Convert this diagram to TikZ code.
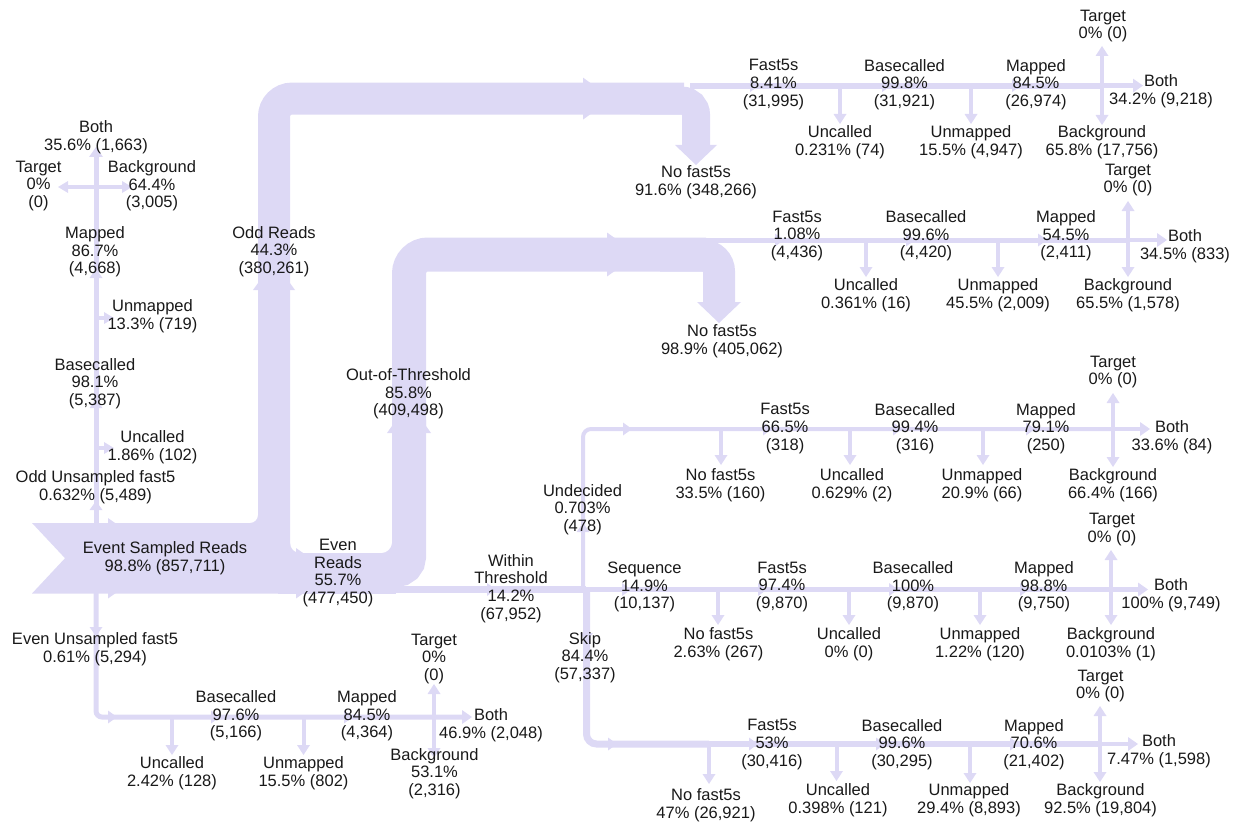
\documentclass[tikz,border=0pt]{standalone}
\usepackage{fontspec}
\setmainfont{Liberation Sans}
\definecolor{flow}{RGB}{221,217,245}
\newcommand\arrR[4]{\fill[flow] (#1,#2-#3) -- (#1+#4,#2) -- (#1,#2+#3) -- cycle;}
\newcommand\arrL[4]{\fill[flow] (#1,#2-#3) -- (#1-#4,#2) -- (#1,#2+#3) -- cycle;}
\newcommand\arrU[4]{\fill[flow] (#1-#3,#2) -- (#1,#2-#4) -- (#1+#3,#2) -- cycle;}
\newcommand\arrD[4]{\fill[flow] (#1-#3,#2) -- (#1,#2+#4) -- (#1+#3,#2) -- cycle;}
\newcommand\mkR[2]{\arrR{#1}{#2}{6.5}{9}}
\newcommand\mkU[2]{\arrU{#1}{#2}{6.5}{9}}
\newcommand\mkD[2]{\arrD{#1}{#2}{6.5}{9}}
\newcommand\stubD[3]{\draw[fl=4] (#1,#2) -- (#1,#3-9); \arrD{#1}{#3-10}{6.5}{10}}
\newcommand\tjunc[5]{%
  \draw[fl=4] (#1,#2) -- (#1,#3+9); \arrU{#1}{#3+10}{6.5}{10}
  \draw[fl=4] (#1,#2) -- (#1,#4-9); \arrD{#1}{#4-10}{6.5}{10}
  \draw[fl=4.5] (#1,#2) -- (#5-9,#2); \arrR{#5-10}{#2}{7}{10}}
\tikzset{
  fl/.style={draw=flow, line width=#1},
  lbl/.style={align=center, inner sep=0pt, text=black!90, font=\fontsize{16.5}{17.7}\selectfont}
}
\begin{document}
\begin{tikzpicture}[x=1pt,y=-1pt]
\useasboundingbox (0,0) rectangle (1246,821);

% ---------- big bands ----------
\fill[flow] (32,523) -- (280,523) -- (280,593.5) -- (32,593.5) -- (65,558.2) -- cycle;
\fill[flow] (278,553) rectangle (396,593.5);
% odd reads band
\draw[fl=32, rounded corners=18] (274,580) -- (274,98.6) -- (684,98.6);
\draw[fl=28, rounded corners=14] (640,100.6) -- (696,100.6) -- (696,146);
\fill[flow] (675,145) -- (717,145) -- (696,165) -- cycle;
% out-of-threshold band
\draw[fl=34, rounded corners=13] (380,570) -- (409,570) -- (409,420);
\fill[flow] (392,545) rectangle (418,575);
\draw[fl=34, rounded corners=19] (409,430) -- (409,254.5) -- (706,254.5);
\draw[fl=32, rounded corners=16] (660,255.5) -- (719,255.5) -- (719,303);
\fill[flow] (697,302) -- (741,302) -- (719,323) -- cycle;
% fillets
\fill[flow] (258,515) .. controls (258,519.4) and (254.4,523) .. (250,523) -- (258,523) -- cycle;
\fill[flow] (290,543) .. controls (290,548.5) and (294.5,553) .. (300,553) -- (290,553) -- cycle;
\fill[flow] (392,543) .. controls (392,548.5) and (386.5,553) .. (382,553) -- (392,553) -- cycle;
% band marks
\fill[flow] (108,518) -- (165,558.2) -- (108,598.5) -- cycle;
\fill[flow] (296,548) -- (332,573.2) -- (296,598.5) -- cycle;
\fill[flow] (253,290) -- (274,261) -- (295,290) -- cycle;
\fill[flow] (583,77.6) -- (612,98.6) -- (583,119.6) -- cycle;
\fill[flow] (387,433) -- (409,402) -- (431,433) -- cycle;
\fill[flow] (607,232.5) -- (638,254.5) -- (607,276.5) -- cycle;

% ---------- odd unsampled (left column) ----------
\draw[fl=5] (96,524) -- (96,156);
\arrU{96}{157}{7}{10}
\draw[fl=4] (96,187) -- (68,187); \arrL{68}{187}{6}{10}
\draw[fl=4] (96,187) -- (123,187); \arrR{122}{187}{6}{10}
\draw[fl=4] (96,318) -- (105,318); \arrR{104}{318}{6}{10}
\draw[fl=4] (96,448) -- (105,448); \arrR{104}{448}{6}{10}
\mkU{96}{510} \mkU{96}{408} \mkU{96}{278}

% ---------- even unsampled (bottom row) ----------
\draw[fl=5, rounded corners=6] (96,593) -- (96,717) -- (463,717);
\arrR{462}{717}{7}{10}
\mkD{96}{627} \mkR{108}{717} \mkR{211}{717} \mkR{344}{717}
\stubD{172}{717}{755} \stubD{303.5}{717}{755}
\draw[fl=4] (434,717) -- (434,693); \arrU{434}{694}{6.5}{10}
\stubD{434}{717}{758}

% ---------- row 1 ----------
\draw[fl=6] (690,85.6) -- (1102,85.6);
\mkR{750}{85.6} \mkR{882}{85.6} \mkR{1012}{85.6}
\stubD{840}{86}{124} \stubD{971}{86}{124}
\tjunc{1102}{85.6}{46}{125}{1143}

% ---------- row 2 ----------
\draw[fl=5] (700,240) -- (1128,240);
\mkR{775}{240} \mkR{906}{240} \mkR{1038}{240}
\stubD{866}{240}{277} \stubD{998}{240}{277}
\tjunc{1128}{240}{201}{277}{1167}

% ---------- within threshold ----------
\draw[fl=7] (390,589.5) -- (586,589.5);
\mkR{487}{589.5}

% ---------- row 3 (undecided) ----------
\draw[fl=4, rounded corners=8] (583,590) -- (583,429) -- (1113,429);
\mkU{583}{532} \mkR{623}{429} \mkR{763}{429} \mkR{893}{429} \mkR{1026}{429}
\stubD{721}{429}{465} \stubD{850}{429}{465} \stubD{983}{429}{465}
\tjunc{1113}{429}{393}{467}{1150}

% ---------- row 4 (sequence) ----------
\draw[fl=5] (583,589.5) -- (1111,589.5);
\mkR{622}{589.5} \mkR{758}{589.5} \mkR{889}{589.5} \mkR{1020}{589.5}
\stubD{718}{589.5}{625} \stubD{849}{589.5}{625} \stubD{980}{589.5}{625}
\tjunc{1111}{589.5}{550}{625}{1148}

% ---------- row 5 (skip) ----------
\draw[fl=7, rounded corners=10] (586.5,589) -- (586.5,744) -- (709,744);
\draw[fl=5.5] (705,744) -- (1100,744);
\mkD{586.5}{633} \mkR{608}{744} \mkR{749}{744} \mkR{876}{744} \mkR{1010}{744}
\stubD{709}{744}{784} \stubD{836.5}{744}{781} \stubD{970}{744}{783}
\tjunc{1100}{744}{706}{782}{1138}

% ---------- labels ----------
\node[lbl] (a1) at (96,137.5) {Both\\35.6\% (1,663)};
\node[lbl] (a2) at (38.5,186) {Target\\0\%\\(0)};
\node[lbl] (a3) at (152,186) {Background\\64.4\%\\(3,005)};
\node[lbl] (a4) at (95,252) {Mapped\\86.7\%\\(4,668)};
\node[lbl] (a5) at (152.5,316.5) {Unmapped\\13.3\% (719)};
\node[lbl] (a6) at (95,383.5) {Basecalled\\98.1\%\\(5,387)};
\node[lbl] (a7) at (152.5,447) {Uncalled\\1.86\% (102)};
\node[lbl] (a8) at (95.5,487.5) {Odd Unsampled fast5\\0.632\% (5,489)};
\node[lbl] (a9) at (165,558) {Event Sampled Reads\\98.8\% (857,711)};

\node[lbl] (b1) at (95,649) {Even Unsampled fast5\\0.61\% (5,294)};
\node[lbl] (b2) at (236,716) {Basecalled\\97.6\%\\(5,166)};
\node[lbl] (b3) at (367,716) {Mapped\\84.5\%\\(4,364)};
\node[lbl] (b4) at (434,659) {Target\\0\%\\(0)};
\node[lbl] (b5) at (491,725) {Both\\46.9\% (2,048)};
\node[lbl] (b6) at (434.5,773.5) {Background\\53.1\%\\(2,316)};
\node[lbl] (b7) at (172,773) {Uncalled\\2.42\% (128)};
\node[lbl] (b8) at (303.5,773) {Unmapped\\15.5\% (802)};

\node[lbl] (c1) at (274,251.5) {Odd Reads\\44.3\%\\(380,261)};
\node[lbl] (c2) at (338,573) {Even\\Reads\\55.7\%\\(477,450)};
\node[lbl] (c3) at (408.5,394) {Out-of-Threshold\\85.8\%\\(409,498)};
\node[lbl] (c4) at (696,182.5) {No fast5s\\91.6\% (348,266)};
\node[lbl] (c5) at (722,341.5) {No fast5s\\98.9\% (405,062)};
\node[lbl] (c6) at (511,588.5) {Within\\Threshold\\14.2\%\\(67,952)};
\node[lbl] (c7) at (582.5,509.5) {Undecided\\0.703\%\\(478)};
\node[lbl] (c8) at (644.5,587) {Sequence\\14.9\%\\(10,137)};
\node[lbl] (c9) at (585,657.5) {Skip\\84.4\%\\(57,337)};

\node[lbl] (r11) at (773.5,84.5) {Fast5s\\8.41\%\\(31,995)};
\node[lbl] (r12) at (904.5,84.5) {Basecalled\\99.8\%\\(31,921)};
\node[lbl] (r13) at (1036,84.5) {Mapped\\84.5\%\\(26,974)};
\node[lbl] (r14) at (1103,26) {Target\\0\% (0)};
\node[lbl] (r15) at (1161,91.5) {Both\\34.2\% (9,218)};
\node[lbl] (r16) at (840,142) {Uncalled\\0.231\% (74)};
\node[lbl] (r17) at (971,142) {Unmapped\\15.5\% (4,947)};
\node[lbl] (r18) at (1102,142) {Background\\65.8\% (17,756)};

\node[lbl] (r21) at (797,236) {Fast5s\\1.08\%\\(4,436)};
\node[lbl] (r22) at (926,236) {Basecalled\\99.6\%\\(4,420)};
\node[lbl] (r23) at (1066,236) {Mapped\\54.5\%\\(2,411)};
\node[lbl] (r24) at (1128,180) {Target\\0\% (0)};
\node[lbl] (r25) at (1185,246) {Both\\34.5\% (833)};
\node[lbl] (r26) at (866,295) {Uncalled\\0.361\% (16)};
\node[lbl] (r27) at (998,295) {Unmapped\\45.5\% (2,009)};
\node[lbl] (r28) at (1128,295) {Background\\65.5\% (1,578)};

\node[lbl] (r31) at (785,428.5) {Fast5s\\66.5\%\\(318)};
\node[lbl] (r32) at (915,428.5) {Basecalled\\99.4\%\\(316)};
\node[lbl] (r33) at (1046,428.5) {Mapped\\79.1\%\\(250)};
\node[lbl] (r34) at (1113,372) {Target\\0\% (0)};
\node[lbl] (r35) at (1172,437) {Both\\33.6\% (84)};
\node[lbl] (r36) at (720.5,485.5) {No fast5s\\33.5\% (160)};
\node[lbl] (r37) at (852,485.5) {Uncalled\\0.629\% (2)};
\node[lbl] (r38) at (982,485.5) {Unmapped\\20.9\% (66)};
\node[lbl] (r39) at (1113,485.5) {Background\\66.4\% (166)};

\node[lbl] (r41) at (782,587) {Fast5s\\97.4\%\\(9,870)};
\node[lbl] (r42) at (913,587) {Basecalled\\100\%\\(9,870)};
\node[lbl] (r43) at (1044,587) {Mapped\\98.8\%\\(9,750)};
\node[lbl] (r44) at (1112,529.5) {Target\\0\% (0)};
\node[lbl] (r45) at (1171,595.5) {Both\\100\% (9,749)};
\node[lbl] (r46) at (718.5,644.5) {No fast5s\\2.63\% (267)};
\node[lbl] (r47) at (849,644.5) {Uncalled\\0\% (0)};
\node[lbl] (r48) at (980,644.5) {Unmapped\\1.22\% (120)};
\node[lbl] (r49) at (1111,644.5) {Background\\0.0103\% (1)};

\node[lbl] (r51) at (772,744.5) {Fast5s\\53\%\\(30,416)};
\node[lbl] (r52) at (902,744.5) {Basecalled\\99.6\%\\(30,295)};
\node[lbl] (r53) at (1034,744.5) {Mapped\\70.6\%\\(21,402)};
\node[lbl] (r54) at (1100.5,686) {Target\\0\% (0)};
\node[lbl] (r55) at (1159,751) {Both\\7.47\% (1,598)};
\node[lbl] (r56) at (706,805) {No fast5s\\47\% (26,921)};
\node[lbl] (r57) at (838,800.5) {Uncalled\\0.398\% (121)};
\node[lbl] (r58) at (969,800.5) {Unmapped\\29.4\% (8,893)};
\node[lbl] (r59) at (1100.5,800.5) {Background\\92.5\% (19,804)};
\end{tikzpicture}
\end{document}
